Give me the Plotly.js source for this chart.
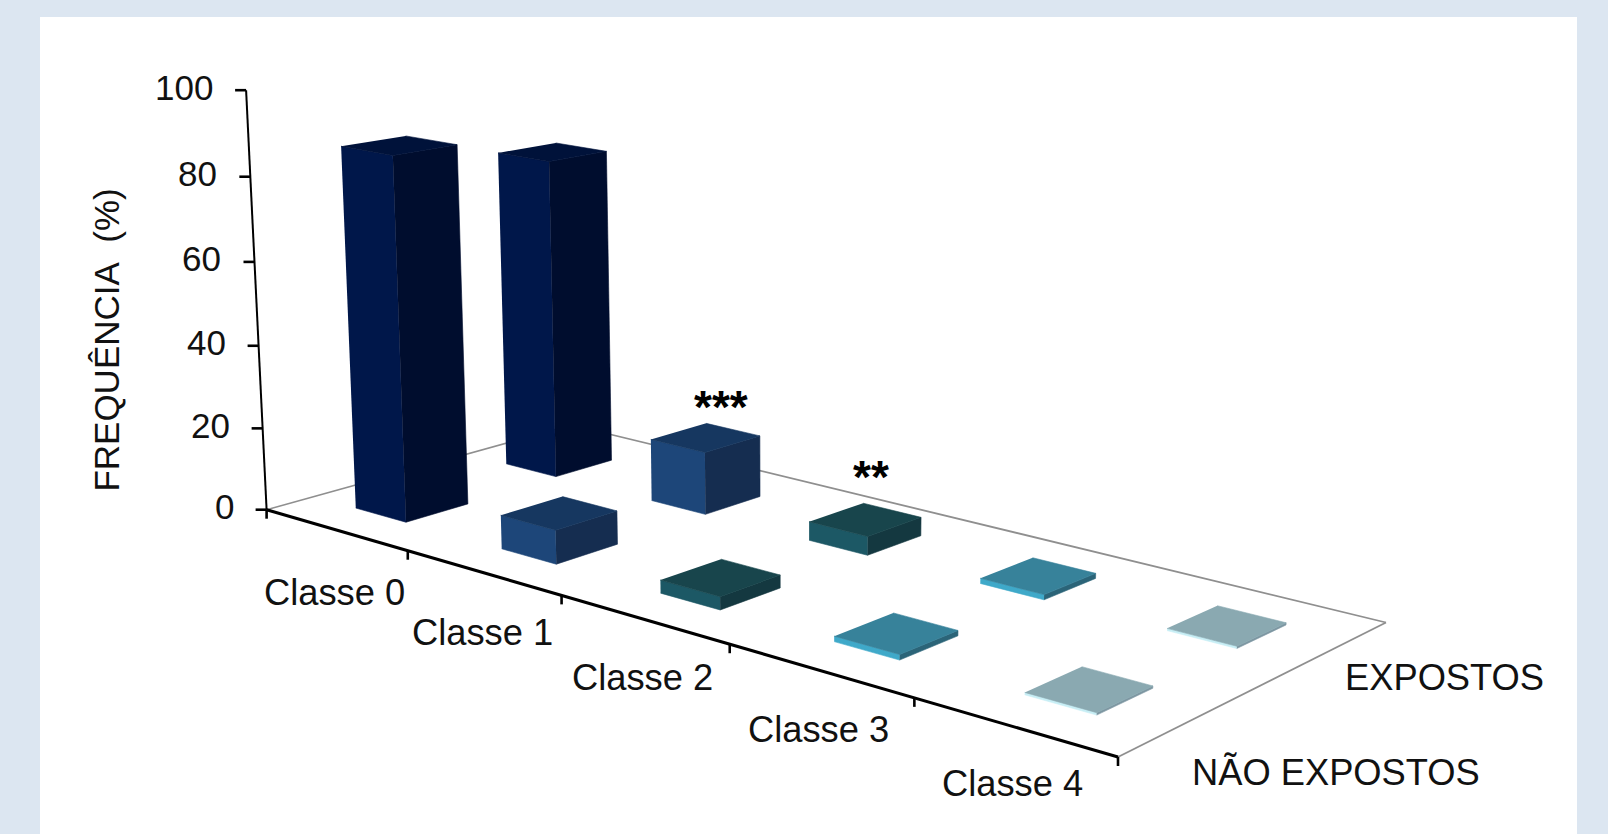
<!DOCTYPE html>
<html>
<head>
<meta charset="utf-8">
<script src="https://cdn.plot.ly/plotly-3.0.1.min.js"></script>
<style>html,body{margin:0;padding:0;background:#dce6f1}</style>
</head>
<body>
<div id="chart" style="width:1608px;height:834px"></div>
<script>
// Frequency per class, split by exposure group
const categories = ["Classe 0", "Classe 1", "Classe 2", "Classe 3", "Classe 4"];
const seriesNames = ["NÃO EXPOSTOS", "EXPOSTOS"];
const naoExpostos = [87, 8, 3, 1.2, 0.5];
const expostos = [79, 15.3, 4.5, 1.2, 0.5];
const valueTicks = [0, 20, 40, 60, 80, 100];
const significance = [null, "***", "**", null, null];

// Face shades per class
const leftFace = ["#00174a", "#1d4679", "#1c5865", "#3fa9c9", "#c7eef5"];
const rightFace = ["#000d2e", "#152d50", "#143840", "#2b6478", "#7d97a2"];
const topFace = ["#00123a", "#163760", "#18454c", "#37829a", "#8aa9b1"];

// Perspective camera: floor corners and the vanishing point of the vertical axis
const floorA = [266.6, 509.7], floorB = [1118, 757], floorC = [1386, 622.5], floorD = [571.5, 425];
const verticalVanish = [788, 11178];
const valueAxisTop = [246, 90.2];
const barWidth = 0.357, barDepth = 0.387;
const font = "Liberation Sans, Arial, sans-serif";
const ink = "#111111";

function makeProjection() {
  const [x0, y0] = floorA, [x1, y1] = floorB, [x2, y2] = floorC, [x3, y3] = floorD;
  const dx1 = x1 - x2, dx2 = x3 - x2, sx = x0 - x1 + x2 - x3;
  const dy1 = y1 - y2, dy2 = y3 - y2, sy = y0 - y1 + y2 - y3;
  const det = dx1 * dy2 - dx2 * dy1;
  const g = (sx * dy2 - dx2 * sy) / det, h = (dx1 * sy - sx * dy1) / det;
  const a = x1 - x0 + g * x1, b = x3 - x0 + h * x3;
  const d = y1 - y0 + g * y1, e = y3 - y0 + h * y3;
  const k = (y0 - valueAxisTop[1]) / (100 * (valueAxisTop[1] - verticalVanish[1]));
  return function (u, v, z) {
    const s = u / categories.length, t = v / seriesNames.length;
    const w = g * s + h * t + 1 + k * z;
    return [(a * s + b * t + x0 + k * verticalVanish[0] * z) / w,
            (d * s + e * t + y0 + k * verticalVanish[1] * z) / w];
  };
}
const project = makeProjection();

const traces = [];
function polygon(points, color) {
  traces.push({
    x: points.map(p => p[0]), y: points.map(p => p[1]),
    mode: "lines", fill: "toself", fillcolor: color,
    line: { color: color, width: 0.6 }, hoverinfo: "skip", showlegend: false
  });
}
function segment(p, q, color, width) {
  traces.push({
    x: [p[0], q[0]], y: [p[1], q[1]], mode: "lines",
    line: { color: color, width: width }, hoverinfo: "skip", showlegend: false
  });
}

// Floor outline
const floorGray = "#8f8f8f";
const nU = categories.length, nV = seriesNames.length;
segment(project(0, 0, 0), project(0, nV, 0), floorGray, 1.6);
segment(project(0, nV, 0), project(nU, nV, 0), floorGray, 1.8);
segment(project(nU, nV, 0), project(nU, 0, 0), floorGray, 1.8);

// Bars, painted from the far row to the near row. Bars lean slightly toward
// the floor origin, more so in the far row and the lower classes.
function bar(c, row, value) {
  const lean = (1 + row) * (0.0167 - 0.0048 * c) + 0.003;
  const cu = c + 0.5 - lean, cv = row + 0.5 - lean;
  const u0 = cu - barWidth / 2, u1 = cu + barWidth / 2;
  const v0 = cv - barDepth / 2, v1 = cv + barDepth / 2;
  polygon([project(u0, v0, 0), project(u1, v0, 0), project(u1, v0, value), project(u0, v0, value)], leftFace[c]);
  polygon([project(u1, v0, 0), project(u1, v1, 0), project(u1, v1, value), project(u1, v0, value)], rightFace[c]);
  polygon([project(u0, v0, value), project(u1, v0, value), project(u1, v1, value), project(u0, v1, value)], topFace[c]);
}
expostos.forEach((val, c) => bar(c, 1, val));
naoExpostos.forEach((val, c) => bar(c, 0, val));

// Axes and tick marks
segment(project(0, 0, 0), project(nU, 0, 0), "#000000", 3);
segment(project(0, 0, 0), project(0, 0, 100), "#000000", 2);

const annotations = [];
function label(text, p, opts) {
  annotations.push(Object.assign({
    text: text, x: p[0], y: p[1], xref: "x", yref: "y", showarrow: false,
    font: { family: font, size: 36.3, color: ink }, xanchor: "center", yanchor: "middle",
    borderpad: 0, borderwidth: 0
  }, opts || {}));
}

valueTicks.forEach(tick => {
  const p = project(0, 0, tick);
  segment(p, [p[0] - 11, p[1]], "#000000", 2.6);
  label(String(tick), [p[0] - 33, p[1] - 3], { xanchor: "right", font: { family: font, size: 35, color: ink } });
});
for (let i = 0; i <= nU; i++) {
  const p = project(i, 0, 0);
  segment(p, [p[0], p[1] + 9], "#000000", 2.6);
}
const classLabelDrop = [63, 59.5, 58, 59, 57];
categories.forEach((name, i) => {
  const p = project(i + 0.5, 0, 0);
  label(name, [p[0] - 1, p[1] + classLabelDrop[i]]);
});

const seriesLabelOffset = [[0, 52.7], [20, 25]];
seriesNames.forEach((name, i) => {
  const p = project(nU, i + 0.5, 0);
  label(name, [p[0] + seriesLabelOffset[i][0], p[1] + seriesLabelOffset[i][1]], { xanchor: "left" });
});

label("FREQUÊNCIA\u00a0\u00a0(%)", [105.6, 340], { textangle: -90, font: { family: font, size: 35, color: ink } });

const markOffset = [null, [8, -31], [0, -42], null, null];
significance.forEach((mark, c) => {
  if (!mark) return;
  const p = project(c + 0.5, 1.5, expostos[c]);
  label(mark, [p[0] + markOffset[c][0], p[1] + markOffset[c][1]], { font: { family: font, size: 46, color: "#000000", weight: 700 } });
});

const hidden = { visible: false, fixedrange: true };
Plotly.newPlot("chart", traces, {
  width: 1608, height: 834,
  paper_bgcolor: "#dce6f1", plot_bgcolor: "#ffffff",
  margin: { l: 40, r: 31, t: 17, b: 0, pad: 0 },
  xaxis: Object.assign({ range: [40, 1577] }, hidden),
  yaxis: Object.assign({ range: [834, 17] }, hidden),
  annotations: annotations, showlegend: false
}, { displayModeBar: false, staticPlot: true });
</script>
</body>
</html>
